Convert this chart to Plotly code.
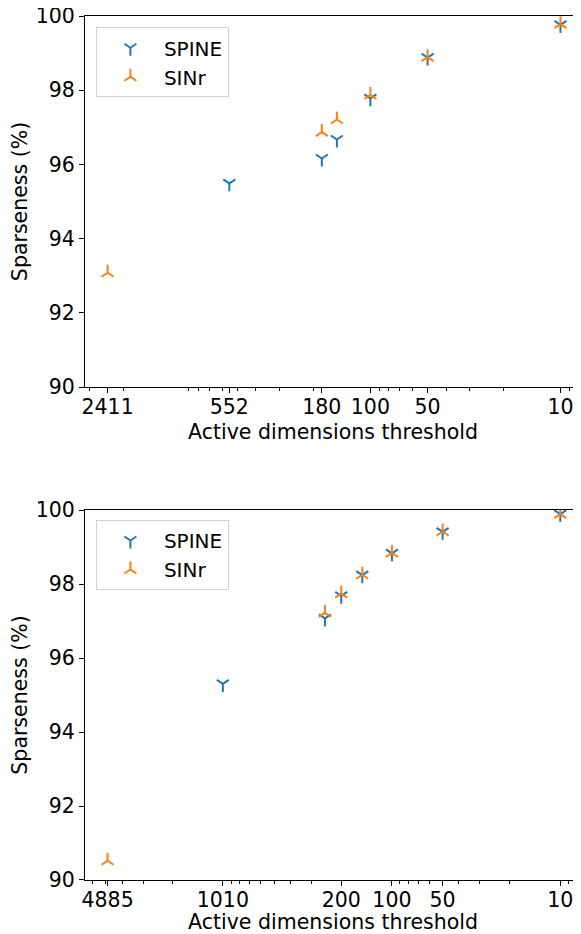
import plotly.graph_objects as go

# ---- data ----
top_spine_x = [552, 180, 150, 100, 50, 10]
top_spine_y = [95.49, 96.16, 96.67, 97.78, 98.88, 99.76]
top_sinr_x = [2411, 180, 150, 100, 50, 10]
top_sinr_y = [93.08, 96.87, 97.21, 97.87, 98.89, 99.78]
top_ticks = [2411, 552, 180, 100, 50, 10]

bot_spine_x = [1010, 250, 200, 150, 100, 50, 10]
bot_spine_y = [95.30, 97.07, 97.68, 98.24, 98.83, 99.41, 99.89]
bot_sinr_x = [4885, 250, 200, 150, 100, 50, 10]
bot_sinr_y = [90.52, 97.22, 97.74, 98.25, 98.84, 99.42, 99.89]
bot_ticks = [4885, 1010, 200, 100, 50, 10]

y_ticks = [90, 92, 94, 96, 98, 100]

BLUE = "#1f77b4"
ORANGE = "#ff7f0e"
FONT = "DejaVu Sans"
FS = 20.5

minor_vals = [m * 10 ** k for k in range(0, 4) for m in range(2, 10)]

fig = go.Figure()

def add(x, y, name, color, symbol, xa, ya, legend):
    fig.add_trace(go.Scatter(
        x=x, y=y, mode="markers", name=name, xaxis=xa, yaxis=ya,
        legend=legend, showlegend=True,
        marker=dict(symbol=symbol, size=10, color=color,
                    line=dict(color=color, width=2)),
    ))

add(top_spine_x, top_spine_y, "SPINE", BLUE, "y-down", "x", "y", "legend")
add(top_sinr_x, top_sinr_y, "SINr", ORANGE, "y-up", "x", "y", "legend")
add(bot_spine_x, bot_spine_y, "SPINE", BLUE, "y-down", "x2", "y2", "legend2")
add(bot_sinr_x, bot_sinr_y, "SINr", ORANGE, "y-up", "x2", "y2", "legend2")

def xaxis(ticks, rng, anchor):
    return dict(
        type="log", range=rng, anchor=anchor, automargin=False,
        tickmode="array", tickvals=ticks, ticktext=[str(t) for t in ticks],
        ticks="outside", ticklen=5, tickwidth=1.2, tickcolor="black",
        ticklabelstandoff=-4, ticklabeloverflow="allow",
        showline=True, linecolor="black", linewidth=1.2, mirror=True,
        showgrid=False, zeroline=False,
        tickfont=dict(family=FONT, size=FS, color="black"),
        title=dict(text="Active dimensions threshold",
                   font=dict(family=FONT, size=FS, color="black"), standoff=6),
        minor=dict(tickmode="array", tickvals=minor_vals, ticks="outside",
                   ticklen=3, tickwidth=1, tickcolor="black", showgrid=False),
    )

def yaxis(domain, anchor):
    return dict(
        domain=domain, range=[90, 100], anchor=anchor, automargin=False,
        tickmode="array", tickvals=y_ticks, ticklabeloverflow="allow",
        ticks="outside", ticklen=5, tickwidth=1.2, tickcolor="black",
        showline=True, linecolor="black", linewidth=1.2, mirror=False,
        showgrid=False, zeroline=False,
        tickfont=dict(family=FONT, size=FS, color="black"),
        title=dict(text="Sparseness (%)",
                   font=dict(family=FONT, size=FS, color="black"), standoff=2),
    )

leg_common = dict(
    bgcolor="white", bordercolor="#d0d0d0", borderwidth=1,
    font=dict(family=FONT, size=20, color="black"),
    xanchor="left", yanchor="top", itemwidth=57,
    tracegroupgap=0,
)

fig.update_layout(
    width=573, height=926,
    margin=dict(l=77, r=0, t=8, b=54, autoexpand=False),
    paper_bgcolor="white", plot_bgcolor="white",
    xaxis=xaxis(top_ticks, [3.501, 0.892], "y"),
    yaxis=yaxis([0.5706, 1.0], "x"),
    xaxis2=xaxis(bot_ticks, [3.823, 0.877], "y2"),
    yaxis2=yaxis([0.0, 0.4282], "x2"),
    legend=dict(x=0.022, y=0.987, **leg_common),
    legend2=dict(x=0.022, y=0.4167, **leg_common),
)

fig.write_html("out.html")
